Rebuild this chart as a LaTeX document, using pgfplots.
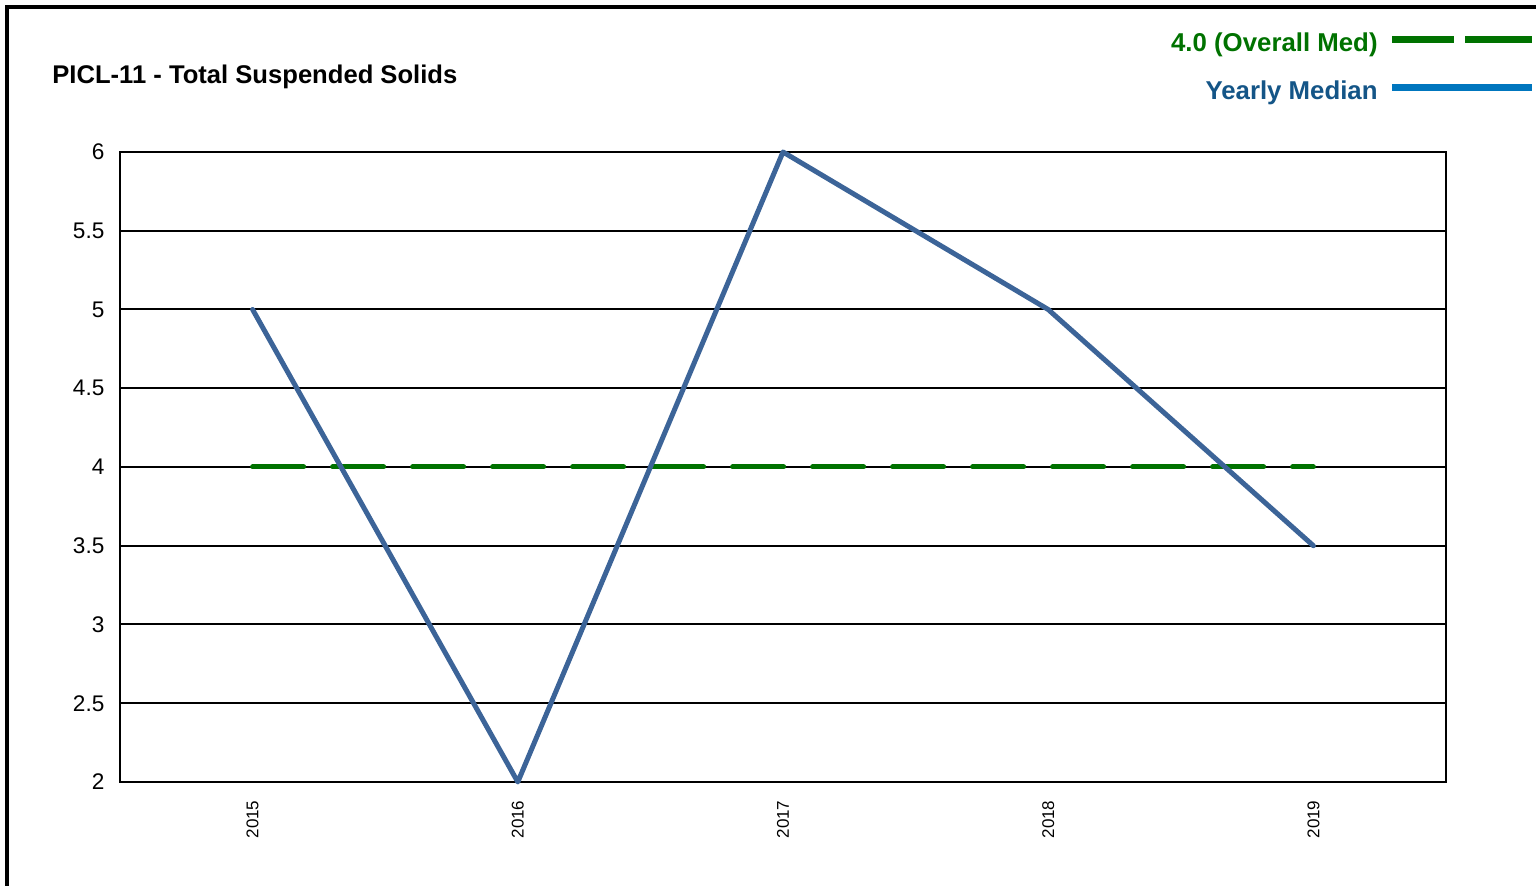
\documentclass[border=0pt]{standalone}
\usepackage{pgfplots}
\pgfplotsset{compat=1.18}
\usepackage{fontspec}
\setmainfont{Liberation Sans}
\definecolor{medgreen}{RGB}{0,114,0}
\definecolor{lineblue}{RGB}{60,100,152}
\definecolor{legblue}{RGB}{0,118,190}
\definecolor{textblue}{RGB}{20,85,135}
\begin{document}
\begin{tikzpicture}
\useasboundingbox (0,0) rectangle (768pt,-443pt);
\draw[line width=2pt] (3.5pt,-443pt) -- (3.5pt,-3.5pt) -- (768pt,-3.5pt);
\node[anchor=west,inner sep=0pt,font=\bfseries\fontsize{12.8}{15}\selectfont] at (26pt,-38.5pt) {PICL-11 - Total Suspended Solids};
\node[anchor=east,inner sep=0pt,font=\bfseries\fontsize{12.9}{15}\selectfont,text=medgreen] at (689pt,-22.5pt) {4.0 (Overall Med)};
\node[anchor=east,inner sep=0pt,font=\bfseries\fontsize{12.9}{15}\selectfont,text=textblue] at (689pt,-46.5pt) {Yearly Median};
\draw[medgreen,line width=3.5pt] (696pt,-20pt) -- (727pt,-20pt);
\draw[medgreen,line width=3.5pt] (732.5pt,-20pt) -- (766pt,-20pt);
\draw[legblue,line width=3.5pt] (696pt,-44pt) -- (766pt,-44pt);
\begin{axis}[
  at={(60pt,-76pt)}, anchor=north west,
  scale only axis, width=663pt, height=315pt,
  xmin=-0.5, xmax=4.5, ymin=2, ymax=6,
  xtick={0,1,2,3,4},
  xticklabels={2015,2016,2017,2018,2019},
  ytick={2,2.5,3,3.5,4,4.5,5,5.5,6},
  yticklabels={2,2.5,3,3.5,4,4.5,5,5.5,6},
  x tick label style={rotate=90,anchor=east,font=\fontsize{8.5}{10}\selectfont},
  y tick label style={font=\fontsize{11.3}{13}\selectfont},
  xtick style={draw=none}, ytick style={draw=none},
  ymajorgrids, grid style={black,line width=1pt},
  axis line style={black,line width=1pt},
  tick align=outside,
  xticklabel shift=1.5pt, yticklabel shift=0pt,
  clip=false,
]
\addplot[medgreen,line width=2.5pt,line cap=round,dash pattern=on 25.5pt off 14.5pt] coordinates {(0,4) (4,4)};
\addplot[lineblue,line width=2.5pt,line join=round,line cap=round] coordinates {(0,5) (1,2) (2,6) (3,5) (4,3.5)};
\end{axis}
\end{tikzpicture}
\end{document}
